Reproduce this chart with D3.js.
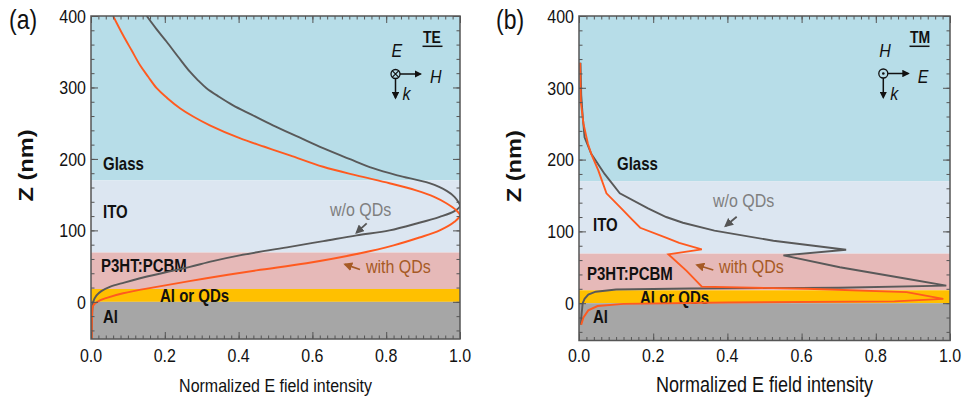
<!DOCTYPE html>
<html>
<head>
<meta charset="utf-8">
<script src="https://cdn.jsdelivr.net/npm/d3@7"></script>
<style>
  body { margin: 0; background: #fff; }
  svg { display: block; font-family: "Liberation Sans", Arial, sans-serif; }
</style>
</head>
<body>
<div id="chart"></div>
<script>
// layer stack (nm)
const layerNames = ["Glass", "ITO", "P3HT:PCBM", "Al or QDs", "Al"];
const layerTop = [400, 170, 69, 18, 0];
const layerBottom = [170, 69, 18, 0, -52];

// axis ticks
const xMajor = [0, 0.2, 0.4, 0.6, 0.8, 1.0];
const yMajor = [0, 100, 200, 300, 400];
const xLabels = ["0.0", "0.2", "0.4", "0.6", "0.8", "1.0"];

// [z (nm), normalized intensity]
const teWithout = [[400,0.151],[382,0.177],[364,0.205],[343,0.236],[322,0.268],[310,0.29],[299,0.313],[287,0.347],
  [275,0.385],[262,0.435],[247,0.493],[230,0.565],[215,0.629],[200,0.70],[187,0.764],[177,0.83],[166,0.917],
  [155,0.965],[147,0.985],[140,0.995],[134,1.0],[127,0.985],[119,0.945],[110,0.885],[100,0.809],[93,0.72],
  [85,0.63],[77,0.539],[65,0.403],[57,0.33],[49,0.268],[41,0.2],[33,0.133],[27,0.09],[21,0.051],[15,0.028],
  [9,0.015],[0,0.006],[-20,0.003],[-52,0.002]];
const teWith = [[400,0.060],[373,0.087],[352,0.11],[331,0.133],[315,0.155],[299,0.178],[285,0.207],[271,0.241],
  [259,0.278],[247,0.322],[229,0.403],[217,0.47],[205,0.539],[189,0.629],[177,0.719],[166,0.809],[156,0.881],
  [147,0.93],[138,0.963],[128,0.99],[121,1.0],[112,0.985],[100,0.945],[90,0.89],[79,0.82],[68,0.73],[54,0.584],
  [44,0.448],[33,0.313],[21,0.178],[12,0.087],[6,0.045],[2,0.024],[-5,0.006],[-20,0.003],[-52,0.002]];
const tmWithout = [[335,0.004],[290,0.006],[260,0.01],[231,0.015],[208,0.033],[180,0.069],[153,0.11],[132,0.186],
  [120,0.235],[112,0.28],[101,0.365],[87,0.524],[74.5,0.72],[66.5,0.551],[50,0.703],[34,0.883],[24.5,0.99],
  [21.5,0.7],[20.5,0.3],[19,0.1],[16,0.045],[12,0.025],[6,0.015],[0,0.01],[-15,0.007],[-30,0.005]];
const tmWith = [[335,0.003],[280,0.005],[250,0.012],[222,0.024],[208,0.033],[185,0.052],[153,0.074],[132,0.114],
  [118,0.14],[105,0.165],[91,0.236],[84,0.27],[75,0.331],[68,0.241],[45,0.29],[23,0.331],[20,0.614],[15.4,0.883],
  [6,0.982],[2.5,0.85],[1,0.4],[-1,0.12],[-4,0.05],[-10,0.025],[-20,0.012],[-30,0.006]];

const layerColors = ["#b7dde8", "#dce6f1", "#e6b9b8", "#ffc000", "#a6a6a6"];
const SY = 1.18; // the figure is slightly stretched vertically

const svg = d3.select("#chart").append("svg").attr("width", 963).attr("height", 402);

const defs = svg.append("defs");
function marker(id, color) {
  defs.append("marker").attr("id", id)
    .attr("viewBox", "0 0 10 10").attr("refX", 8).attr("refY", 5)
    .attr("markerWidth", 5).attr("markerHeight", 5).attr("orient", "auto")
    .append("path").attr("d", "M0,0L10,5L0,10Z").attr("fill", color);
}
marker("ahBlack", "#111");
marker("ahGray", "#555");
marker("ahBrown", "#a65a25");

function txt(g, x, y, s, size, opts) {
  opts = opts || {};
  const t = g.append("text")
    .attr("transform", `translate(${x},${y}) ${opts.rot ? "rotate(-90)" : ""} scale(${opts.rot ? SY + ",1" : "1," + SY})`)
    .attr("font-size", size)
    .attr("fill", opts.fill || "#111")
    .attr("font-weight", opts.bold ? "bold" : "normal")
    .attr("font-style", opts.italic ? "italic" : "normal")
    .attr("text-anchor", opts.anchor || "start")
    .text(s);
  if (opts.dy) t.attr("dy", opts.dy);
  return t;
}

const panels = [
  { id: "a", tag: "(a)", tagX: 9, x0: 91, x1: 460, y0: 16, y1: 339, without: teWithout, withQ: teWith,
    curve: d3.curveCatmullRom.alpha(0.5), xlabelSize: 16,
    names: [[103,170],[103,218],[101,272],[160,302],[103,323]],
    wo: { tx: 330, ty: 216, a: [366.7,223.3,356.5,232.7] },
    wi: { tx: 366, ty: 273, a: [360,269.5,345,264.3] },
    mode: "TE", icon: { cx: 395.5, cy: 74, top: "E", right: "H", tagX: 423 } },
  { id: "b", tag: "(b)", tagX: 496, x0: 579, x1: 950, y0: 16, y1: 340.5, without: tmWithout, withQ: tmWith,
    curve: d3.curveLinear, xlabelSize: 18,
    names: [[617,170],[593,231],[587,280],[640,304],[593,323]],
    wo: { tx: 713, ty: 207, a: [736.7,216.7,725.5,226] },
    wi: { tx: 719, ty: 273, a: [713.3,270,697,265] },
    mode: "TM", icon: { cx: 883.3, cy: 73.5, top: "H", right: "E", tagX: 910 } }
];

panels.forEach(p => {
  const x = d3.scaleLinear().domain([0, 1]).range([p.x0, p.x1]);
  const y = d3.scaleLinear().domain([-52, 400]).range([p.y1, p.y0]);
  const g = svg.append("g");

  // layers
  g.selectAll("rect.layer").data(layerNames).enter().append("rect")
    .attr("class", "layer")
    .attr("x", p.x0).attr("width", p.x1 - p.x0)
    .attr("y", (d, i) => y(layerTop[i]))
    .attr("height", (d, i) => y(layerBottom[i]) - y(layerTop[i]))
    .attr("fill", (d, i) => layerColors[i]);

  // layer names
  layerNames.forEach((n, i) => txt(g, p.names[i][0], p.names[i][1], n, 15, { bold: true, fill: "#111" }));

  // curves
  const clipId = "clip" + p.id;
  defs.append("clipPath").attr("id", clipId).append("rect")
    .attr("x", p.x0).attr("y", p.y0).attr("width", p.x1 - p.x0).attr("height", p.y1 - p.y0);
  const line = d3.line().x(d => x(d[1])).y(d => y(d[0])).curve(p.curve);
  g.append("path").datum(p.without).attr("d", line).attr("fill", "none")
    .attr("stroke", "#595959").attr("stroke-width", 1.9).attr("clip-path", `url(#${clipId})`);
  g.append("path").datum(p.withQ).attr("d", line).attr("fill", "none")
    .attr("stroke", "#ff5a1f").attr("stroke-width", 1.9).attr("clip-path", `url(#${clipId})`);

  // axes: inward ticks on all four sides
  const xMinor = d3.range(0, 1.0001, 0.02);
  const yMinor = d3.range(-40, 401, 20);
  const addAxis = (axis, tx, ty) => {
    const a = g.append("g").attr("transform", `translate(${tx},${ty})`).call(axis);
    a.select(".domain").remove();
    a.selectAll("line").attr("stroke", "#555").attr("stroke-width", 1);
  };
  [[d3.axisBottom, p.y1], [d3.axisTop, p.y0]].forEach(([ax, ty]) => {
    addAxis(ax(x).tickValues(xMinor).tickSize(-3.5).tickFormat(""), 0, ty);
    addAxis(ax(x).tickValues(xMajor).tickSize(-7).tickFormat(""), 0, ty);
  });
  [[d3.axisLeft, p.x0], [d3.axisRight, p.x1]].forEach(([ax, tx]) => {
    addAxis(ax(y).tickValues(yMinor).tickSize(-3.5).tickFormat(""), tx, 0);
    addAxis(ax(y).tickValues(yMajor).tickSize(-7).tickFormat(""), tx, 0);
  });

  // frame
  g.append("rect").attr("x", p.x0).attr("y", p.y0).attr("width", p.x1 - p.x0).attr("height", p.y1 - p.y0)
    .attr("fill", "none").attr("stroke", "#555").attr("stroke-width", 1.5);

  // tick labels
  yMajor.forEach(v => txt(g, p.x0 - 5, y(v), String(v), 16, { anchor: "end", dy: "0.36em", fill: "#111" }));
  xMajor.forEach((v, i) => txt(g, x(v), 361.5, xLabels[i], 16, { anchor: "middle", fill: "#111" }));

  // axis titles
  txt(g, (p.x0 + p.x1) / 2, 392, "Normalized E field intensity", p.xlabelSize, { anchor: "middle", fill: "#111" });
  txt(g, p.x0 - 58, (p.y0 + p.y1) / 2 - 12, "Z (nm)", 20, { anchor: "middle", rot: true, bold: true, fill: "#111" });
  txt(g, p.tagX, 29, p.tag, 23, { fill: "#111" });

  // annotations
  txt(g, p.wo.tx, p.wo.ty, "w/o QDs", 16, { fill: "#7f7f7f" });
  g.append("line").attr("x1", p.wo.a[0]).attr("y1", p.wo.a[1]).attr("x2", p.wo.a[2]).attr("y2", p.wo.a[3])
    .attr("stroke", "#555").attr("stroke-width", 1.8).attr("marker-end", "url(#ahGray)");
  txt(g, p.wi.tx, p.wi.ty, "with QDs", 16, { fill: "#a65a25" });
  g.append("line").attr("x1", p.wi.a[0]).attr("y1", p.wi.a[1]).attr("x2", p.wi.a[2]).attr("y2", p.wi.a[3])
    .attr("stroke", "#a65a25").attr("stroke-width", 1.8).attr("marker-end", "url(#ahBrown)");

  // polarization icon
  const ic = p.icon;
  txt(g, ic.tagX, 43, p.mode, 14, { bold: true });
  g.append("line").attr("x1", ic.tagX - 0.5).attr("x2", ic.tagX + 19.5).attr("y1", 46.3).attr("y2", 46.3)
    .attr("stroke", "#111").attr("stroke-width", 1.5);
  txt(g, ic.cx - 4, 56.5, ic.top, 16, { italic: true });
  g.append("circle").attr("cx", ic.cx).attr("cy", ic.cy).attr("r", 4.5)
    .attr("fill", "none").attr("stroke", "#111").attr("stroke-width", 1.3);
  if (p.mode === "TE") {
    const r = 3.1;
    g.append("path").attr("d", `M${ic.cx - r},${ic.cy - r}L${ic.cx + r},${ic.cy + r}M${ic.cx - r},${ic.cy + r}L${ic.cx + r},${ic.cy - r}`)
      .attr("stroke", "#111").attr("stroke-width", 1.2);
  } else {
    g.append("circle").attr("cx", ic.cx).attr("cy", ic.cy).attr("r", 1.3).attr("fill", "#111");
  }
  g.append("line").attr("x1", ic.cx + 4.5).attr("y1", ic.cy).attr("x2", ic.cx + 25).attr("y2", ic.cy)
    .attr("stroke", "#111").attr("stroke-width", 1.5).attr("marker-end", "url(#ahBlack)");
  g.append("line").attr("x1", ic.cx).attr("y1", ic.cy + 4.5).attr("x2", ic.cx).attr("y2", ic.cy + 24)
    .attr("stroke", "#111").attr("stroke-width", 1.5).attr("marker-end", "url(#ahBlack)");
  txt(g, ic.cx + 34.5, 83, ic.right, 16, { italic: true });
  txt(g, ic.cx + 7, 100, "k", 16, { italic: true });
});
</script>
</body>
</html>
